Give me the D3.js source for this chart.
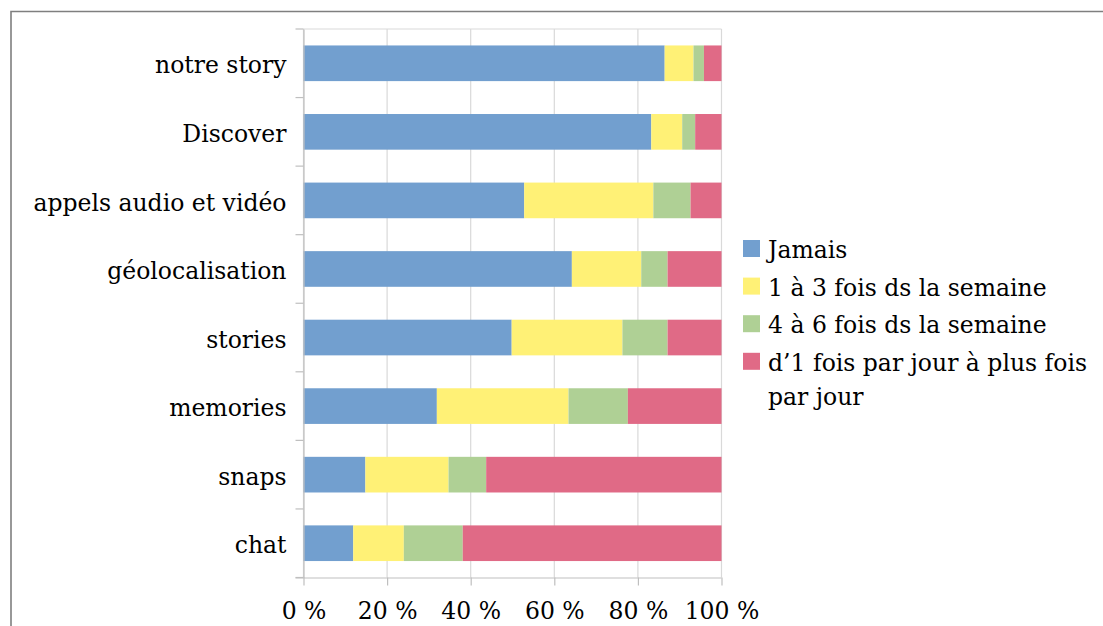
<!DOCTYPE html>
<html>
<head>
<meta charset="utf-8">
<script src="https://cdn.jsdelivr.net/npm/d3@7"></script>
<style>
  body { margin: 0; background: #fff; }
  svg { display: block; }
  svg text { font-family: "DejaVu Serif", serif; }
</style>
</head>
<body>
<div id="chart"></div>
<script>
// categories, top to bottom
var categories = ['notre story', 'Discover', 'appels audio et vidéo', 'géolocalisation',
  'stories', 'memories', 'snaps', 'chat'];

// series, in stacking order (share of respondents, %)
var seriesNames = ['Jamais', '1 à 3 fois ds la semaine', '4 à 6 fois ds la semaine',
  'd\u20191 fois par jour à plus fois par jour'];
var jamais     = [86.4, 83.2, 52.8, 64.2, 49.8, 31.9, 14.8, 11.9];
var unATrois   = [6.9, 7.4, 30.9, 16.6, 26.5, 31.5, 19.9, 12.1];
var quatreASix = [2.5, 3.1, 8.9, 6.3, 10.8, 14.2, 9.0, 14.1];
var quotidien  = [4.2, 6.3, 7.4, 12.9, 12.9, 22.4, 56.3, 61.9];

var xTicks = [0, 20, 40, 60, 80, 100];
var colors = ['#729fcf', '#fff176', '#afd095', '#e06a86'];

var width = 1103, height = 626,
  margin = {top: 29, right: 381.5, bottom: 48.5, left: 303.5},
  fontSize = 23.5;

// build rows for d3.stack
var allValues = [jamais, unATrois, quatreASix, quotidien];
var rows = categories.map(function(c, i) {
  var r = {category: c};
  seriesNames.forEach(function(s, j) { r[s] = allValues[j][i]; });
  return r;
});
var stacked = d3.stack().keys(seriesNames)(rows);

var svg = d3.select('#chart').append('svg')
  .attr('width', width).attr('height', height);

// outer frame (only top and left visible in the crop)
svg.append('path')
  .attr('d', 'M11,' + (height + 5) + 'V11.5H' + (width + 5))
  .attr('fill', 'none')
  .attr('stroke', '#7f7f7f')
  .attr('stroke-width', 1.6);

var x = d3.scaleLinear().domain([0, 100])
  .range([margin.left, width - margin.right]);
var y = d3.scaleBand().domain(categories)
  .range([margin.top, height - margin.bottom])
  .paddingInner(0.48).paddingOuter(0.24);

var plotBottom = height - margin.bottom;

// vertical gridlines
svg.append('g').selectAll('line')
  .data(xTicks).enter().append('line')
  .attr('x1', function(d) { return x(d); })
  .attr('x2', function(d) { return x(d); })
  .attr('y1', margin.top).attr('y2', plotBottom)
  .attr('stroke', '#d9d9d9').attr('stroke-width', 1.2);

// top border of plot
svg.append('line')
  .attr('x1', x(0)).attr('x2', x(100))
  .attr('y1', margin.top).attr('y2', margin.top)
  .attr('stroke', '#d9d9d9').attr('stroke-width', 1.2);

// bars
svg.append('g').selectAll('g')
  .data(stacked).enter().append('g')
  .attr('fill', function(d, i) { return colors[i]; })
  .selectAll('rect')
  .data(function(d) { return d; }).enter().append('rect')
  .attr('x', function(d) { return x(d[0]); })
  .attr('width', function(d) { return x(d[1]) - x(d[0]); })
  .attr('y', function(d) { return y(d.data.category); })
  .attr('height', y.bandwidth());

// x axis
var xAxis = svg.append('g')
  .attr('transform', 'translate(0,' + plotBottom + ')')
  .call(d3.axisBottom(x).tickValues(xTicks).tickSize(8).tickPadding(17)
    .tickFormat(function(d) { return d + ' %'; }));
xAxis.attr('font-family', null).attr('font-size', null);
xAxis.select('.domain').attr('stroke', '#bfbfbf').attr('stroke-width', 1.2)
  .attr('d', 'M' + (x(0) - 8) + ',0.5H' + x(100));
xAxis.selectAll('.tick line').attr('stroke', '#bfbfbf').attr('stroke-width', 1.2);
xAxis.selectAll('.tick text')
  .style('font-size', fontSize + 'px').attr('fill', '#000');

// y axis: line, ticks between categories, labels
var yAxis = svg.append('g')
  .attr('transform', 'translate(' + x(0) + ',0)')
  .call(d3.axisLeft(y).tickSize(0).tickPadding(17));
yAxis.attr('font-family', null).attr('font-size', null);
yAxis.select('.domain').attr('stroke', '#bfbfbf').attr('stroke-width', 1.2);
yAxis.selectAll('.tick text')
  .style('font-size', fontSize + 'px').attr('fill', '#000')
  .attr('dy', '0.43em');

var boundaries = d3.range(categories.length + 1).map(function(i) {
  return margin.top + i * y.step();
});
svg.append('g').selectAll('line')
  .data(boundaries).enter().append('line')
  .attr('x1', x(0) - 8).attr('x2', x(0))
  .attr('y1', function(d) { return d; }).attr('y2', function(d) { return d; })
  .attr('stroke', '#bfbfbf').attr('stroke-width', 1.2);

// legend
var legendLines = [['Jamais'], ['1 à 3 fois ds la semaine'], ['4 à 6 fois ds la semaine'],
  ['d\u20191 fois par jour à plus fois', 'par jour']];
var legend = svg.append('g').attr('transform', 'translate(743,258)');
var item = legend.selectAll('g').data(seriesNames).enter().append('g')
  .attr('transform', function(d, i) { return 'translate(0,' + (i * 37.6) + ')'; });
item.append('rect')
  .attr('x', 0).attr('y', -18).attr('width', 17).attr('height', 17)
  .attr('fill', function(d, i) { return colors[i]; });
item.append('text')
  .style('font-size', fontSize + 'px')
  .attr('fill', '#000')
  .selectAll('tspan')
  .data(function(d, i) { return legendLines[i]; }).enter().append('tspan')
  .attr('x', 25)
  .attr('dy', function(d, i) { return i === 0 ? 0 : 34; })
  .text(function(d) { return d; });
</script>
</body>
</html>
